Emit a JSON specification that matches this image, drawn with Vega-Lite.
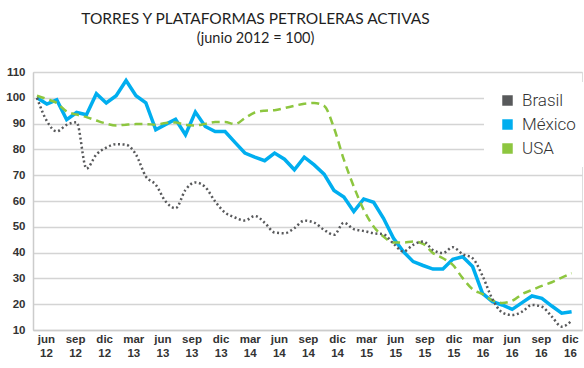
{
  "$schema": "https://vega.github.io/schema/vega-lite/v6.json",
  "width": 549,
  "height": 258,
  "autosize": {"type": "none"},
  "padding": {"left": 33, "top": 72, "right": 2, "bottom": 38},
  "background": "white",
  "title": {
    "text": "TORRES Y PLATAFORMAS PETROLERAS ACTIVAS",
    "subtitle": "(junio 2012 = 100)",
    "font": "Lato",
    "fontSize": 15.5,
    "fontWeight": "normal",
    "color": "#1f1f1f",
    "subtitleFont": "Lato",
    "subtitleFontSize": 14.5,
    "subtitleColor": "#1f1f1f",
    "anchor": "middle",
    "frame": "group",
    "dx": -52,
    "offset": 21,
    "subtitlePadding": 4
  },
  "data": {
    "values": [
      {"t": 0, "Brasil": 100, "México": 100, "USA": 100.8},
      {"t": 1, "Brasil": 91, "México": 97.6, "USA": 99.5},
      {"t": 2, "Brasil": 87, "México": 99.2, "USA": 98},
      {"t": 3, "Brasil": 89.5, "México": 91.5, "USA": 94.7},
      {"t": 4, "Brasil": 90.5, "México": 94.3, "USA": 93.5},
      {"t": 5, "Brasil": 72.6, "México": 93.4, "USA": 92.5},
      {"t": 6, "Brasil": 78, "México": 101.6, "USA": 91.2},
      {"t": 7, "Brasil": 80.7, "México": 98, "USA": 90},
      {"t": 8, "Brasil": 82, "México": 100.8, "USA": 89.3},
      {"t": 9, "Brasil": 81.8, "México": 106.7, "USA": 89.6},
      {"t": 10, "Brasil": 78, "México": 100.8, "USA": 89.8},
      {"t": 11, "Brasil": 69.5, "México": 98, "USA": 89.8},
      {"t": 12, "Brasil": 66.3, "México": 87.6, "USA": 89.6},
      {"t": 13, "Brasil": 59.8, "México": 89.7, "USA": 90.2},
      {"t": 14, "Brasil": 57.2, "México": 91.7, "USA": 90.4},
      {"t": 15, "Brasil": 64.3, "México": 85.7, "USA": 89.5},
      {"t": 16, "Brasil": 67.2, "México": 94.5, "USA": 89.3},
      {"t": 17, "Brasil": 65.4, "México": 88.9, "USA": 89.9},
      {"t": 18, "Brasil": 59.8, "México": 86.9, "USA": 90.6},
      {"t": 19, "Brasil": 55.5, "México": 86.9, "USA": 90.6},
      {"t": 20, "Brasil": 53.6, "México": 82.7, "USA": 89.8},
      {"t": 21, "Brasil": 52.4, "México": 78.6, "USA": 92.1},
      {"t": 22, "Brasil": 54.2, "México": 77, "USA": 94.3},
      {"t": 23, "Brasil": 51.6, "México": 75.6, "USA": 95},
      {"t": 24, "Brasil": 47.8, "México": 78.6, "USA": 95.2},
      {"t": 25, "Brasil": 47.5, "México": 76.2, "USA": 96},
      {"t": 26, "Brasil": 49.5, "México": 72.1, "USA": 96.9},
      {"t": 27, "Brasil": 52.4, "México": 77, "USA": 97.7},
      {"t": 28, "Brasil": 51.6, "México": 74, "USA": 98},
      {"t": 29, "Brasil": 48.8, "México": 70.4, "USA": 96.9},
      {"t": 30, "Brasil": 46.9, "México": 64.1, "USA": 88.3},
      {"t": 31, "Brasil": 51.6, "México": 61.5, "USA": 76},
      {"t": 32, "Brasil": 49.1, "México": 55.9, "USA": 65.6},
      {"t": 33, "Brasil": 48.4, "México": 60.8, "USA": 56.6},
      {"t": 34, "Brasil": 47.5, "México": 59.5, "USA": 50.1},
      {"t": 35, "Brasil": 47.1, "México": 53.3, "USA": 46.2},
      {"t": 36, "Brasil": 43.5, "México": 45.6, "USA": 43.9},
      {"t": 37, "Brasil": 40.4, "México": 40.4, "USA": 43.9},
      {"t": 38, "Brasil": 43, "México": 36.5, "USA": 44.3},
      {"t": 39, "Brasil": 44.3, "México": 35, "USA": 43.4},
      {"t": 40, "Brasil": 41, "México": 33.6, "USA": 39.8},
      {"t": 41, "Brasil": 39.8, "México": 33.6, "USA": 37.8},
      {"t": 42, "Brasil": 42.1, "México": 37.4, "USA": 35.2},
      {"t": 43, "Brasil": 39.4, "México": 38.4, "USA": 30.1},
      {"t": 44, "Brasil": 37.8, "México": 34.6, "USA": 25.8},
      {"t": 45, "Brasil": 31, "México": 24.2, "USA": 23.9},
      {"t": 46, "Brasil": 22, "México": 21, "USA": 21.5},
      {"t": 47, "Brasil": 16.8, "México": 19.7, "USA": 20.5},
      {"t": 48, "Brasil": 15.8, "México": 18, "USA": 21.3},
      {"t": 49, "Brasil": 17.1, "México": 20.6, "USA": 23.9},
      {"t": 50, "Brasil": 19.7, "México": 23.2, "USA": 25.5},
      {"t": 51, "Brasil": 19, "México": 22.3, "USA": 27.1},
      {"t": 52, "Brasil": 15.2, "México": 19.3, "USA": 28.5},
      {"t": 53, "Brasil": 11.3, "México": 16.5, "USA": 30.3},
      {"t": 54, "Brasil": 13.6, "México": 17.1, "USA": 32}
    ]
  },
  "transform": [
    {"fold": ["Brasil", "México", "USA"], "as": ["serie", "valor"]}
  ],
  "encoding": {
    "x": {
      "field": "t",
      "type": "quantitative",
      "scale": {"domain": [-0.4, 55.05], "nice": false, "zero": false},
      "axis": {
        "title": null,
        "grid": false,
        "ticks": false,
        "domain": true,
        "domainColor": "#cccccc",
        "domainWidth": 1.5,
        "values": [0.91, 3.85, 6.79, 9.73, 12.67, 15.61, 18.55, 21.49, 24.43, 27.37, 30.31, 33.25, 36.19, 39.13, 42.07, 45.01, 47.95, 50.89, 53.83],
        "labelExpr": "[['jun','sep','dic','mar'][round((datum.value - 0.91) / 2.94) % 4], '' + (12 + floor((round((datum.value - 0.91) / 2.94) + 1) / 4))]",
        "labelFont": "Liberation Sans",
        "labelFontSize": 11.5,
        "labelFontWeight": "bold",
        "labelColor": "#333333",
        "labelLineHeight": 14,
        "labelPadding": 3,
        "labelOverlap": false,
        "labelFlush": false
      }
    },
    "y": {
      "field": "valor",
      "type": "quantitative",
      "scale": {"domain": [10, 110], "nice": false, "zero": false},
      "axis": {
        "title": null,
        "values": [10, 20, 30, 40, 50, 60, 70, 80, 90, 100, 110],
        "ticks": false,
        "domain": true,
        "domainColor": "#cccccc",
        "domainWidth": 1.5,
        "grid": true,
        "gridColor": "#d4d4d4",
        "gridWidth": 1.5,
        "labelFont": "Liberation Sans",
        "labelFontSize": 11.5,
        "labelFontWeight": "bold",
        "labelColor": "#333333",
        "labelPadding": 8
      }
    },
    "color": {
      "field": "serie",
      "type": "nominal",
      "scale": {"domain": ["Brasil", "México", "USA"], "range": ["#58595b", "#00aeef", "#8dc63f"]},
      "legend": {
        "title": null,
        "orient": "none",
        "legendX": 451,
        "legendY": 10,
        "symbolType": "square",
        "symbolSize": 110,
        "symbolStrokeWidth": 0,
        "symbolOffset": 5,
        "labelOffset": 6,
        "labelFont": "Roboto",
        "labelFontSize": 17,
        "labelFontWeight": 300,
        "labelColor": "#333333",
        "fillColor": "white",
        "padding": 10,
        "rowPadding": 6,
        "encode": {
          "symbols": {
            "update": {
              "fill": {"scale": "color", "field": "value"},
              "opacity": {"value": 1},
              "strokeDash": {"value": []}
            }
          }
        }
      }
    }
  },
  "layer": [
    {
      "transform": [{"filter": "datum.serie === 'México'"}],
      "mark": {"type": "line", "strokeWidth": 3.5, "interpolate": "linear"}
    },
    {
      "transform": [{"filter": "datum.serie === 'USA'"}],
      "mark": {"type": "line", "strokeWidth": 2.5, "strokeDash": [8, 5], "interpolate": "monotone"}
    },
    {
      "transform": [{"filter": "datum.serie === 'Brasil'"}],
      "mark": {"type": "line", "strokeWidth": 2.5, "strokeDash": [2, 2.6], "strokeCap": "butt", "interpolate": "monotone"}
    }
  ]
}
